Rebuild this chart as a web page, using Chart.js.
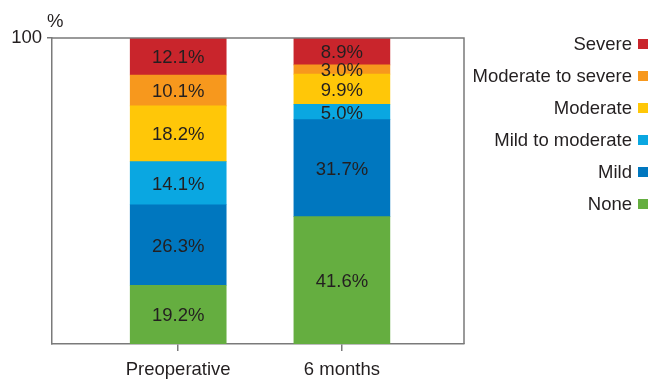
<!DOCTYPE html>
<html>
<head>
<meta charset="utf-8">
<script src="https://cdn.jsdelivr.net/npm/chart.js@4"></script>
<style>
  body { margin: 0; background: #fff; }
  #wrap { width: 651px; height: 380px; }
</style>
</head>
<body>
<div id="wrap"><canvas id="canvas"></canvas></div>
<script>
// Datos
const categorias = ['Preoperative', '6 months'];
const series = ['None', 'Mild', 'Mild to moderate', 'Moderate', 'Moderate to severe', 'Severe'];
const none = [19.2, 41.6];
const mild = [26.3, 31.7];
const mildToModerate = [14.1, 5.0];
const moderate = [18.2, 9.9];
const moderateToSevere = [10.1, 3.0];
const severe = [12.1, 8.9];
const yTicks = [100];

const valores = [none, mild, mildToModerate, moderate, moderateToSevere, severe];
const colores = ['#65ae40', '#0077bf', '#0aa7e1', '#ffc708', '#f7981d', '#c9252c'];
const gris = '#7a7a7a';
const texto = '#231f20';
const fuente = '"Liberation Sans", Arial, sans-serif';
const tam = 18.5;

// Etiquetas de porcentaje, "%" del eje y, marco y leyenda a la derecha
const extras = {
  id: 'extras',
  afterDatasetsDraw(chart) {
    const ctx = chart.ctx;
    const a = chart.chartArea;
    ctx.save();
    ctx.font = tam + 'px ' + fuente;
    ctx.fillStyle = texto;
    ctx.textAlign = 'center';
    ctx.textBaseline = 'middle';
    chart.data.datasets.forEach((ds, i) => {
      chart.getDatasetMeta(i).data.forEach((bar, j) => {
        const v = ds.data[j].y;
        ctx.fillText(v.toFixed(1) + '%', bar.x, (bar.y + bar.base) / 2 + 1.5);
      });
    });

    // marco superior y derecho
    ctx.strokeStyle = gris;
    ctx.lineWidth = 1.5;
    ctx.beginPath();
    ctx.moveTo(a.left, a.top);
    ctx.lineTo(a.right, a.top);
    ctx.lineTo(a.right, a.bottom);
    ctx.stroke();

    // unidad del eje y
    ctx.textAlign = 'left';
    ctx.textBaseline = 'alphabetic';
    ctx.fillText('%', a.left - 5, a.top - 11);

    // leyenda: texto alineado a la derecha, cuadro a la derecha
    const items = chart.data.datasets.map((ds) => ({ label: ds.label, color: ds.backgroundColor })).reverse();
    const boxRight = chart.width - 3;
    items.forEach((it, k) => {
      const y = a.top + 6 + k * 32;
      ctx.fillStyle = it.color;
      ctx.fillRect(boxRight - 10, y - 5, 10, 10);
      ctx.fillStyle = texto;
      ctx.textAlign = 'right';
      ctx.textBaseline = 'middle';
      ctx.fillText(it.label, boxRight - 16, y + 1);
    });
    ctx.restore();
  }
};

const grafico = new Chart(document.getElementById('canvas'), {
  type: 'bar',
  data: {
    datasets: series.map((nombre, i) => ({
      label: nombre,
      data: valores[i].map((v, j) => ({ x: j, y: v })),
      backgroundColor: colores[i],
      borderWidth: 0,
      barThickness: 96
    }))
  },
  options: {
    responsive: true,
    maintainAspectRatio: false,
    animation: false,
    layout: { padding: { top: 38, right: 187, left: 0, bottom: 0 } },
    scales: {
      x: {
        type: 'linear',
        stacked: true,
        offset: false,
        bounds: 'data',
        min: -0.771,
        max: 1.746,
        afterBuildTicks: (s) => { s.ticks = categorias.map((c, i) => ({ value: i })); },
        afterFit: (s) => { s.height = 36; },
        ticks: {
          callback: (v) => categorias[v],
          color: texto,
          font: { size: tam, family: fuente },
          padding: 8,
          maxRotation: 0,
          autoSkip: false
        },
        grid: { offset: false, drawOnChartArea: false, drawTicks: true, tickLength: 7, color: gris, lineWidth: 1.5 },
        border: { color: gris, width: 1.5 }
      },
      y: {
        stacked: true,
        min: 0,
        max: 100,
        afterBuildTicks: (s) => { s.ticks = yTicks.map(v => ({ value: v })); },
        afterFit: (s) => { s.width = 52; },
        ticks: {
          color: texto,
          font: { size: tam, family: fuente },
          padding: 5
        },
        grid: { drawOnChartArea: false, drawTicks: true, tickLength: 5, color: gris, lineWidth: 1.5 },
        border: { color: gris, width: 1.5 }
      }
    },
    plugins: {
      legend: { display: false },
      tooltip: { enabled: false }
    }
  },
  plugins: [extras]
});
</script>
</body>
</html>
